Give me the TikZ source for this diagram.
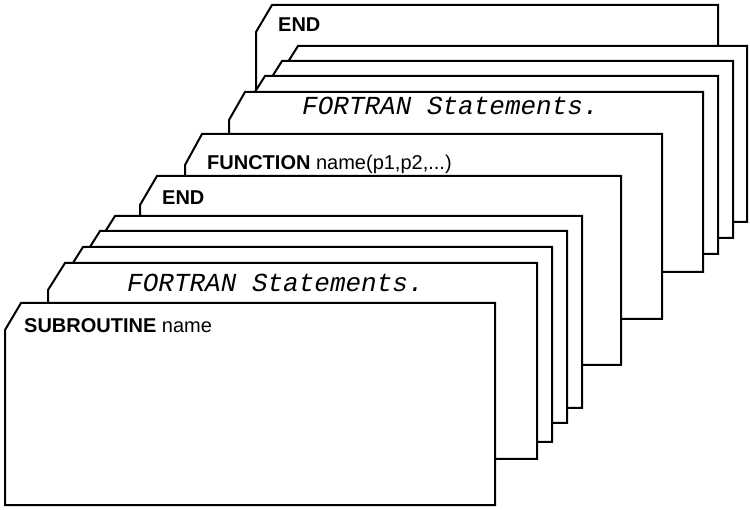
\documentclass[tikz,border=0pt]{standalone}
\usepackage{fontspec}
\setsansfont{Liberation Sans}
\newfontfamily\fortfont{Liberation Mono}
\newcommand\deckcard[6]{\filldraw[card] (#1,#2) -- (#5,#2) -- (#5,#6) -- (#3,#6) -- (#3,#4) -- cycle;}
\begin{document}
\begin{tikzpicture}[x=1pt,y=-1pt,
  card/.style={draw=black, fill=white, line width=2pt},
  kw/.style={anchor=base west, font=\sffamily\fontsize{20}{22}\selectfont, inner sep=0pt},
  ft/.style={anchor=base west, font=\fortfont\itshape\fontsize{26}{28}\selectfont, inner sep=0pt}]
\useasboundingbox (0,0) rectangle (750,510);
% back group
\deckcard{272}{5}{256}{32}{718}{230}
\deckcard{298}{46}{281}{73}{747}{222}
\deckcard{282}{61}{265}{88}{733}{238}
\deckcard{265}{76}{248}{103}{718}{254}
\deckcard{245}{92}{229}{120}{703}{272}
\deckcard{202}{134}{185}{165}{662}{319}
% front group
\deckcard{157}{176}{140}{205}{621}{365}
\deckcard{115}{216}{98}{243}{582}{408}
\deckcard{100}{231}{83}{258}{567}{423}
\deckcard{83}{247}{66}{274}{552}{442}
\deckcard{65}{263}{48}{290}{537}{459}
\deckcard{21}{303}{5}{330}{495}{505}
% texts
\node[kw] (endback) at (278,32) {\textbf{END}};
\node[ft] (fortback) at (302,115) {FORTRAN Statements.};
\node[kw] (func) at (207,170) {\textbf{FUNCTION} name(p1,p2,...)};
\node[kw] (endfront) at (162,205) {\textbf{END}};
\node[ft] (fortfront) at (127,292) {FORTRAN Statements.};
\node[kw] (sub) at (24,333) {\textbf{SUBROUTINE} name};
\end{tikzpicture}
\end{document}
